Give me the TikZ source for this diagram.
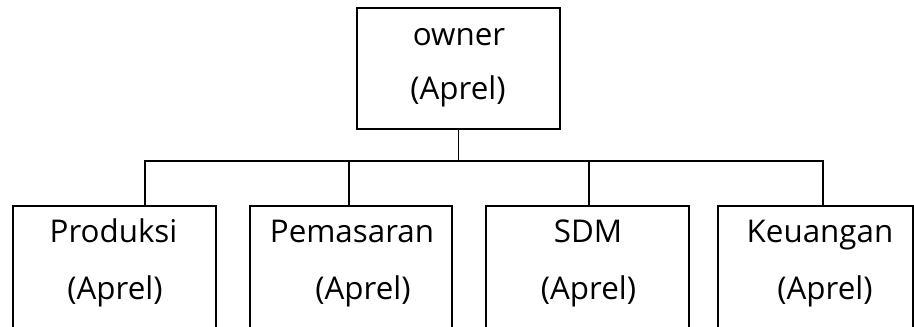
\documentclass[tikz,border=0pt]{standalone}
\usepackage{fontspec}
\setmainfont{Open Sans}
\begin{document}
\begin{tikzpicture}[x=0.75pt, y=-0.75pt, line width=1.45pt,
  unit/.style={draw, inner sep=0pt, minimum width=152pt, minimum height=120pt},
  label/.style={anchor=base, font=\fontsize{23.5}{28}\selectfont}]

\useasboundingbox (0,0) rectangle (914,326);
\clip (0,0) rectangle (914,326);

% top box
\node[unit, minimum height=91pt] (owner) at (458.5,68.5) {};
\node[label] (ownerA) at (459,45) {owner};
\node[label] (ownerB) at (458,99) {(Aprel)};

% bottom boxes, cut off by the page
\node[unit] (prod) at (114.5,286) {};
\node[unit] (pemas) at (351,286) {};
\node[unit] (sdm) at (587.5,286) {};
\node[unit, minimum width=146pt] (keu) at (815.5,286) {};

\node[label] (prodA) at (113.5,242) {Produksi};
\node[label] (prodB) at (115,299) {(Aprel)};
\node[label] (pemasA) at (352,242) {Pemasaran};
\node[label] (pemasB) at (363,299) {(Aprel)};
\node[label] (sdmA) at (588,242) {SDM};
\node[label] (sdmB) at (588.5,299) {(Aprel)};
\node[label] (keuA) at (820,242) {Keuangan};
\node[label] (keuB) at (825,299) {(Aprel)};

% connectors
\coordinate (bar) at (458.5,161);
\coordinate (s1) at (145,206);
\coordinate (s2) at (349,206);
\coordinate (s3) at (589,206);
\coordinate (s4) at (823,206);

\draw (owner.south) -- (owner.south |- bar);
\draw (s1) -- (s1 |- bar) -- (s4 |- bar) -- (s4);
\draw (s2) -- (s2 |- bar);
\draw (s3) -- (s3 |- bar);

\end{tikzpicture}
\end{document}
